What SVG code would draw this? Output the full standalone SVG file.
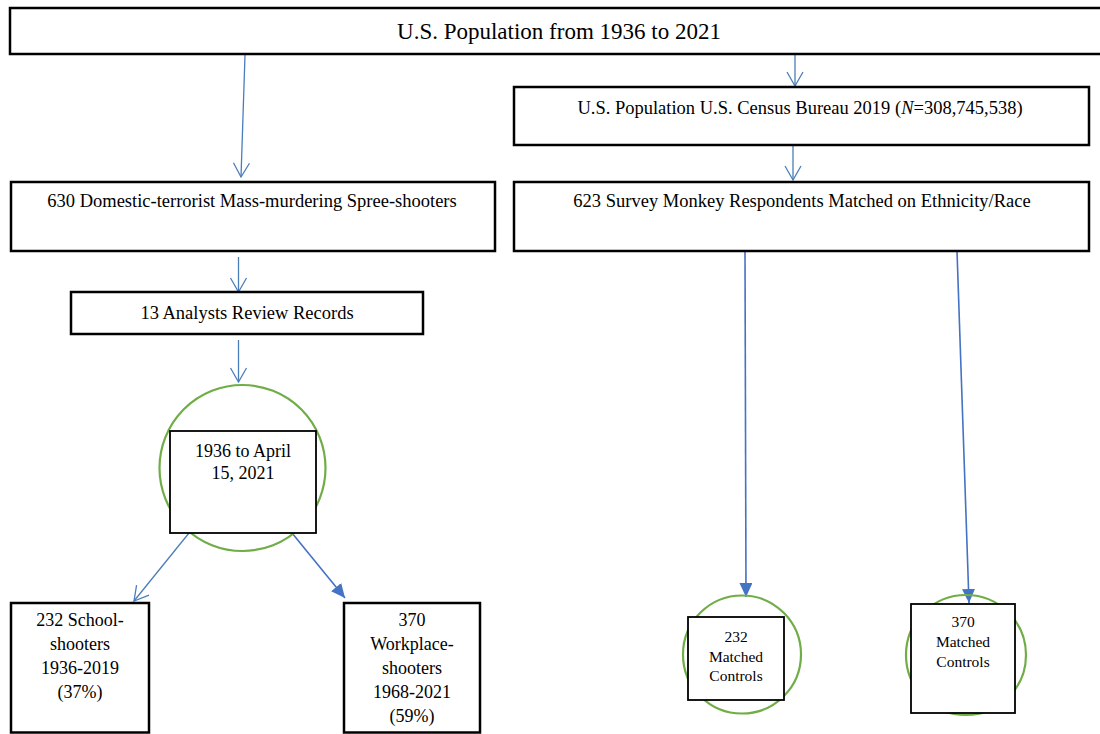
<svg xmlns="http://www.w3.org/2000/svg" width="1100" height="734" viewBox="0 0 1100 734">
<style>
text{font-family:"Liberation Serif","Times New Roman",serif;fill:#000;text-anchor:middle}
.big{fill:#fff;stroke:#000;stroke-width:2.5}
.sm{fill:#fff;stroke:#000;stroke-width:1.8}
.ring{fill:none;stroke:#70AD47;stroke-width:2.2}
.thin{fill:none;stroke:#4A7EBB;stroke-width:1.3}
.bold{fill:none;stroke:#4472C4;stroke-width:1.6}
.lbl{font-size:18.5px}
</style>
<defs>
<marker id="open" markerUnits="userSpaceOnUse" markerWidth="20" markerHeight="20" refX="15" refY="9" orient="auto" viewBox="0 0 20 20">
<path d="M1,1 L15,9 L1,17" fill="none" stroke="#4A7EBB" stroke-width="1.3"/>
</marker>
<marker id="fill" markerUnits="userSpaceOnUse" markerWidth="16" markerHeight="14" refX="14" refY="6.5" orient="auto" viewBox="0 0 16 14">
<path d="M0,0 L14,6.5 L0,13 Z" fill="#4472C4"/>
</marker>
</defs>
<g id="connectors">
<line class="thin" x1="245" y1="55" x2="241" y2="177" marker-end="url(#open)"/>
<line class="thin" x1="795" y1="55" x2="795" y2="86" marker-end="url(#open)"/>
<line class="thin" x1="793" y1="145" x2="793" y2="180" marker-end="url(#open)"/>
<line class="thin" x1="238.5" y1="257" x2="238.5" y2="292" marker-end="url(#open)"/>
<line class="thin" x1="238.5" y1="340" x2="238.5" y2="382" marker-end="url(#open)"/>
<line class="thin" x1="189" y1="533" x2="134" y2="601" marker-end="url(#open)"/>
<line class="bold" x1="292" y1="533" x2="345" y2="598" marker-end="url(#fill)"/>
<line class="bold" x1="745" y1="251" x2="746" y2="597" marker-end="url(#fill)"/>
<line class="bold" x1="957" y1="251" x2="969" y2="603" marker-end="url(#fill)"/>
</g>
<g id="n-top">
<rect class="big" x="10" y="8" width="1100" height="46"/>
<text x="559" y="39" font-size="23">U.S. Population from 1936 to 2021</text>
</g>
<g id="n-census">
<rect class="big" x="514" y="87" width="575" height="58"/>
<text class="lbl" x="800" y="114">U.S. Population U.S. Census Bureau 2019 (<tspan font-style="italic">N</tspan>=308,745,538)</text>
</g>
<g id="n-630">
<rect class="big" x="11" y="182" width="484" height="69"/>
<text class="lbl" x="252" y="207">630 Domestic-terrorist Mass-murdering Spree-shooters</text>
</g>
<g id="n-623">
<rect class="big" x="514" y="182" width="575" height="69"/>
<text class="lbl" x="802" y="207">623 Survey Monkey Respondents Matched on Ethnicity/Race</text>
</g>
<g id="n-analysts">
<rect class="big" x="71" y="292" width="352" height="42"/>
<text class="lbl" x="247" y="319">13 Analysts Review Records</text>
</g>
<g id="n-period">
<circle class="ring" cx="242.5" cy="468" r="83"/>
<rect class="sm" x="170" y="431" width="146" height="102"/>
<text x="243" y="457" font-size="18">1936 to April</text>
<text x="243" y="479" font-size="18">15, 2021</text>
</g>
<g id="n-school">
<rect class="big" x="11" y="603" width="138" height="129.5"/>
<text x="80" y="626" font-size="18">232 School-</text>
<text x="80" y="650" font-size="18">shooters</text>
<text x="80" y="674" font-size="18">1936-2019</text>
<text x="80" y="698" font-size="18">(37%)</text>
</g>
<g id="n-workplace">
<rect class="big" x="344" y="603" width="136" height="129.5"/>
<text x="412" y="626" font-size="18">370</text>
<text x="412" y="650" font-size="18">Workplace-</text>
<text x="412" y="674" font-size="18">shooters</text>
<text x="412" y="698" font-size="18">1968-2021</text>
<text x="412" y="722" font-size="18">(59%)</text>
</g>
<g id="n-ctrl232">
<circle class="ring" cx="742" cy="654.5" r="59"/>
<rect class="sm" x="688" y="617" width="96" height="83"/>
<text x="736" y="642" font-size="15.5">232</text>
<text x="736" y="662" font-size="15.5">Matched</text>
<text x="736" y="681" font-size="15.5">Controls</text>
</g>
<g id="n-ctrl370">
<circle class="ring" cx="966" cy="655" r="60"/>
<rect class="sm" x="911" y="604" width="104" height="109"/>
<text x="963" y="627" font-size="15.5">370</text>
<text x="963" y="647" font-size="15.5">Matched</text>
<text x="963" y="667" font-size="15.5">Controls</text>
</g>
</svg>
